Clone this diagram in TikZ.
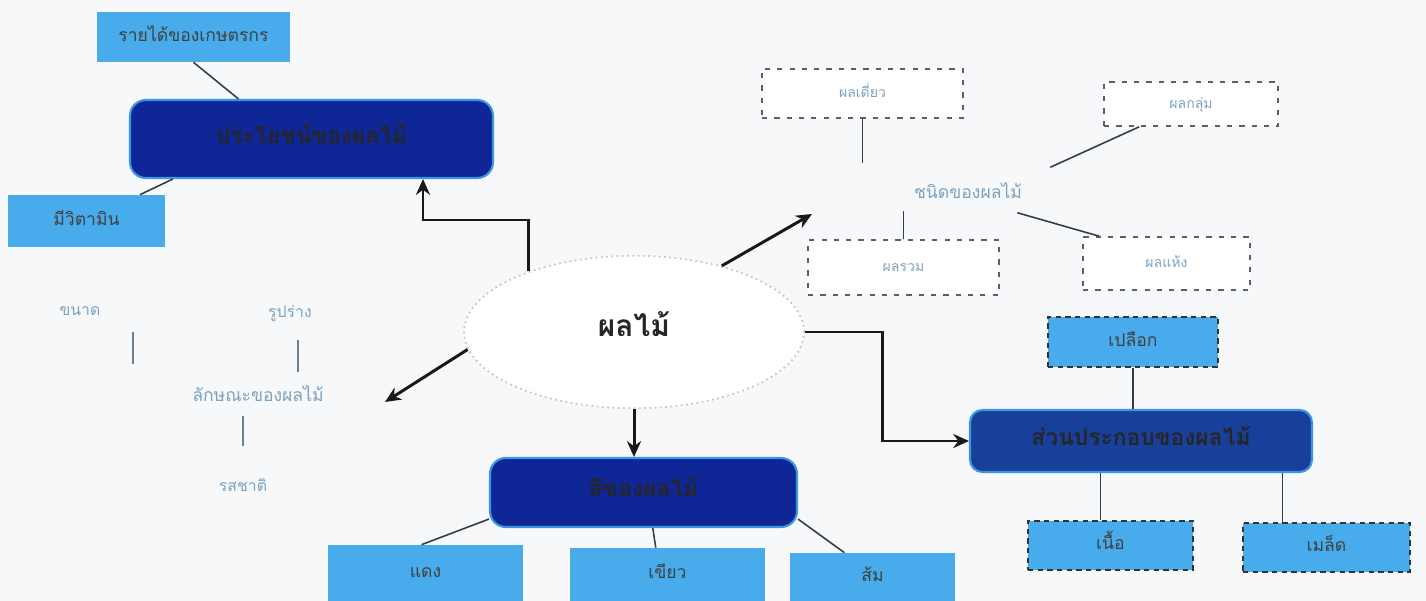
\documentclass[tikz,border=0pt]{standalone}
\usepackage{fontspec}
\newfontfamily\thai[Script=Thai]{Loma}
\usetikzlibrary{arrows.meta,shapes.geometric,calc}
\definecolor{bgc}{RGB}{246,248,250}
\definecolor{navy}{RGB}{14,38,150}
\definecolor{navyB}{RGB}{24,64,155}
\definecolor{edgeb}{RGB}{60,150,225}
\definecolor{sky}{RGB}{72,172,236}
\definecolor{pale}{RGB}{125,162,192}
\definecolor{lnc}{RGB}{55,60,70}
\definecolor{dashc}{RGB}{90,95,110}
\tikzset{
  base/.style={inner sep=0pt, font=\thai, text height=0.5em, text depth=0pt},
  darkbox/.style={base, fill=navy, draw=edgeb, line width=1.2pt, rounded corners=9pt, font=\thai\bfseries\fontsize{13}{15}\selectfont, text=black!85},
  lightbox/.style={base, fill=sky, font=\thai\fontsize{10}{12}\selectfont, text=black!75},
  lightdash/.style={lightbox, draw=black!80, dashed, dash pattern=on 3pt off 2.5pt, line width=1.2pt},
  whitedash/.style={base, fill=white, draw=dashc, dash pattern=on 3pt off 4pt, line width=0.9pt, font=\thai\fontsize{8}{10}\selectfont, text=pale},
  paletext/.style={base, font=\thai\fontsize{9}{11}\selectfont, text=pale},
  conn/.style={draw=lnc, line width=0.9pt},
  paleline/.style={draw=pale!80!black, line width=1.1pt},
  arr/.style={draw=black!90, line width=1.7pt, -{Stealth[length=9pt,width=8pt]}},
  wh/.style 2 args={minimum width=#1cm, minimum height=#2cm}
}
\begin{document}
\begin{tikzpicture}[x=0.02cm,y=-0.02cm]
\fill[bgc] (0,0) rectangle (1426,601);
\useasboundingbox (0,0) rectangle (1426,601);

% top-left group
\node[lightbox, wh={3.86}{1.0}] (rai) at (193.5,37) {รายได้ของเกษตรกร};
\node[darkbox, wh={7.26}{1.56}] (use) at (311.5,139) {ประโยชน์ของผลไม้};
\node[lightbox, wh={3.14}{1.04}] (vit) at (86.5,221) {มีวิตามิน};
\draw[conn] (rai.south) -- ($(use.north west)!0.3!(use.north east)$);
\draw[conn] ($(use.south west)!0.12!(use.south east)$) -- ($(vit.north west)!0.84!(vit.north east)$);

% centre
\node[ellipse, draw=gray!45, dotted, line width=1pt, fill=white, minimum width=6.8cm, minimum height=3.05cm, font=\thai\bfseries\fontsize{17}{19}\selectfont, text=black!85, text height=0.5em, text depth=0pt] (fruit) at (634,332) {ผลไม้};

% left group
\node[paletext, font=\thai\fontsize{10}{12}\selectfont] (lak) at (258,397) {ลักษณะของผลไม้};
\node[paletext] (size) at (80,311) {ขนาด};
\node[paletext] (shape) at (290,313) {รูปร่าง};
\node[paletext] (taste) at (243,487) {รสชาติ};
\draw[paleline] ([shift={(53,16)}]size.south) -- ++(0,32);
\draw[paleline] ([shift={(8,22)}]shape.south) -- ++(0,32);
\draw[paleline] ([shift={(-15,14)}]lak.south) -- ++(0,30);

% bottom group
\node[darkbox, wh={6.14}{1.38}] (colour) at (643.5,492.5) {สีของผลไม้};
\node[lightbox, wh={3.9}{1.12}] (red) at (425.5,573) {แดง};
\node[lightbox, wh={3.9}{1.06}] (green) at (667.5,574.5) {เขียว};
\node[lightbox, wh={3.3}{0.96}] (orange) at (872.5,577) {ส้ม};
\draw[conn] ($(colour.south west)+(0,-9)$) -- ($(red.north west)!0.48!(red.north east)$);
\draw[conn] ($(colour.south west)!0.53!(colour.south east)$) -- ($(green.north west)!0.44!(green.north east)$);
\draw[conn] ($(colour.south east)+(0,-9)$) -- ($(orange.north west)!0.33!(orange.north east)$);

% top-right group
\node[paletext, font=\thai\fontsize{10}{12}\selectfont] (kind) at (968,194) {ชนิดของผลไม้};
\node[whitedash, wh={4.02}{0.98}] (d1) at (862.5,93.5) {ผลเดี่ยว};
\node[whitedash, wh={3.48}{0.88}] (d2) at (1191,104) {ผลกลุ่ม};
\node[whitedash, wh={3.82}{1.1}] (d3) at (903.5,267.5) {ผลรวม};
\node[whitedash, wh={3.34}{1.06}] (d4) at (1166.5,263.5) {ผลแห้ง};
\draw[conn] (d1.south) -- ++(0,44);
\draw[conn] ([shift={(28,-22)}]kind.north east) -- ($(d2.south west)+(36,0)$);
\draw[conn] (d3.north) -- ++(0,-28);
\draw[conn] ([shift={(-5,14)}]kind.south east) -- ($(d4.north west)+(17,0)$);

% right group
\node[darkbox, fill=navyB, rounded corners=7pt, wh={6.84}{1.24}] (part) at (1141,441) {ส่วนประกอบของผลไม้};
\node[lightdash, wh={3.4}{1.0}] (peel) at (1133,342) {เปลือก};
\node[lightdash, wh={3.3}{0.98}] (flesh) at (1110.5,545.5) {เนื้อ};
\node[lightdash, wh={3.34}{0.98}] (seed) at (1326.5,547.5) {เมล็ด};
\draw[conn] (peel.south) -- (peel.south |- part.north);
\draw[conn] ($(flesh.north west)!0.44!(flesh.north east)$) coordinate (f1) -- (f1 |- part.south);
\draw[conn] ($(seed.north west)!0.24!(seed.north east)$) coordinate (s1) -- (s1 |- part.south);

% arrows
\coordinate (k1) at (423,220);
\draw[arr] (fruit.150) |- (k1) -- (k1 |- use.south);
\draw[arr] (fruit.south) -- (fruit.south |- colour.north);
\coordinate (la) at (385,402);
\draw[arr] (fruit.186) -- (la);
\coordinate (ta) at (812,214);
\draw[arr] (fruit.37) -- (ta);
\draw[arr] (fruit.east) -- ++(78,0) |- (part.west);
\end{tikzpicture}
\end{document}
